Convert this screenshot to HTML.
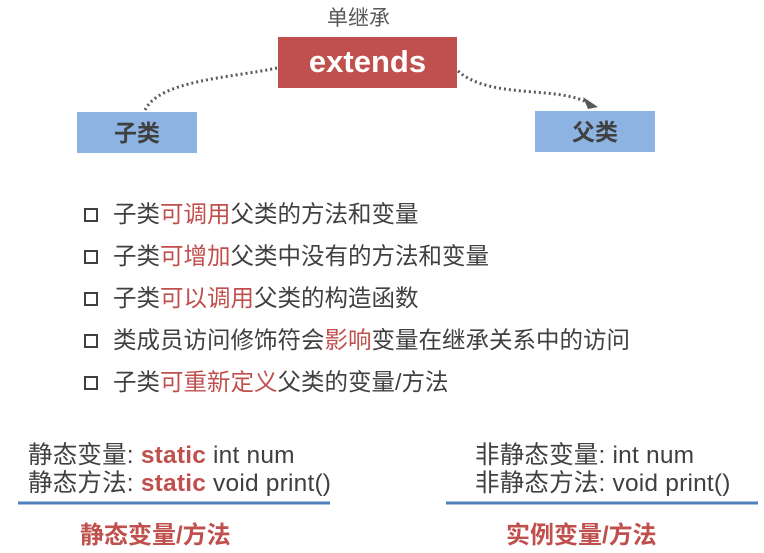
<!DOCTYPE html>
<html><head><meta charset="utf-8"><style>
body{margin:0;width:764px;height:553px;background:#fff;position:relative;overflow:hidden;font-family:"Liberation Sans","Noto Sans CJK SC",sans-serif;color:#404040}
.a{position:absolute;white-space:nowrap}
.r{color:#c0504d}
.sq{position:absolute;left:84px;width:10px;height:10px;border:2px solid #404040}
.li{position:absolute;left:113px;font-size:23.5px;white-space:nowrap;line-height:26px}
.code{font-size:24.5px;line-height:28px;letter-spacing:0.2px}
</style></head><body>
<div class="a" style="left:327px;top:2px;font-size:21px;color:#595959">单继承</div>
<div class="a" style="left:278px;top:37px;width:179px;height:51px;background:#c0504d;color:#fff;font-weight:bold;font-size:31px;text-align:center;line-height:50px">extends</div>
<div class="a" style="left:77px;top:112px;width:120px;height:41px;background:#8db3e2;font-weight:bold;font-size:23px;text-align:center;line-height:43px;color:#404040">子类</div>
<div class="a" style="left:535px;top:111px;width:120px;height:41px;background:#8db3e2;font-weight:bold;font-size:23px;text-align:center;line-height:43px;color:#404040">父类</div>
<svg class="a" style="left:0;top:0" width="764" height="553">
<path d="M277 68 C230 78 160 80 145 110" fill="none" stroke="#595959" stroke-width="3" stroke-dasharray="2 3"/>
<path d="M458 71 C490 100 560 85 590 104" fill="none" stroke="#595959" stroke-width="3" stroke-dasharray="2 3"/>
<path d="M583 97 L598 107 L588 109 Z" fill="#595959"/>
<line x1="18" y1="503" x2="330" y2="503" stroke="#4f81bd" stroke-width="3"/>
<line x1="446" y1="503" x2="758" y2="503" stroke="#4f81bd" stroke-width="3"/>
</svg>
<div class="sq" style="top:208px"></div><div class="li" style="top:201px">子类<span class="r">可调用</span>父类的方法和变量</div>
<div class="sq" style="top:250px"></div><div class="li" style="top:243px">子类<span class="r">可增加</span>父类中没有的方法和变量</div>
<div class="sq" style="top:292px"></div><div class="li" style="top:285px">子类<span class="r">可以调用</span>父类的构造函数</div>
<div class="sq" style="top:334px"></div><div class="li" style="top:327px">类成员访问修饰符会<span class="r">影响</span>变量在继承关系中的访问</div>
<div class="sq" style="top:376px"></div><div class="li" style="top:369px">子类<span class="r">可重新定义</span>父类的变量/方法</div>
<div class="a code" style="left:28px;top:442px">静态变量: <b class="r">static</b> int num<br>静态方法: <b class="r">static</b> void print()</div>
<div class="a code" style="left:475px;top:442px">非静态变量: int num<br>非静态方法: void print()</div>
<div class="a r" style="left:80px;top:515px;font-size:24px;font-weight:bold">静态变量/方法</div>
<div class="a r" style="left:506px;top:515px;font-size:24px;font-weight:bold">实例变量/方法</div>
</body></html>
